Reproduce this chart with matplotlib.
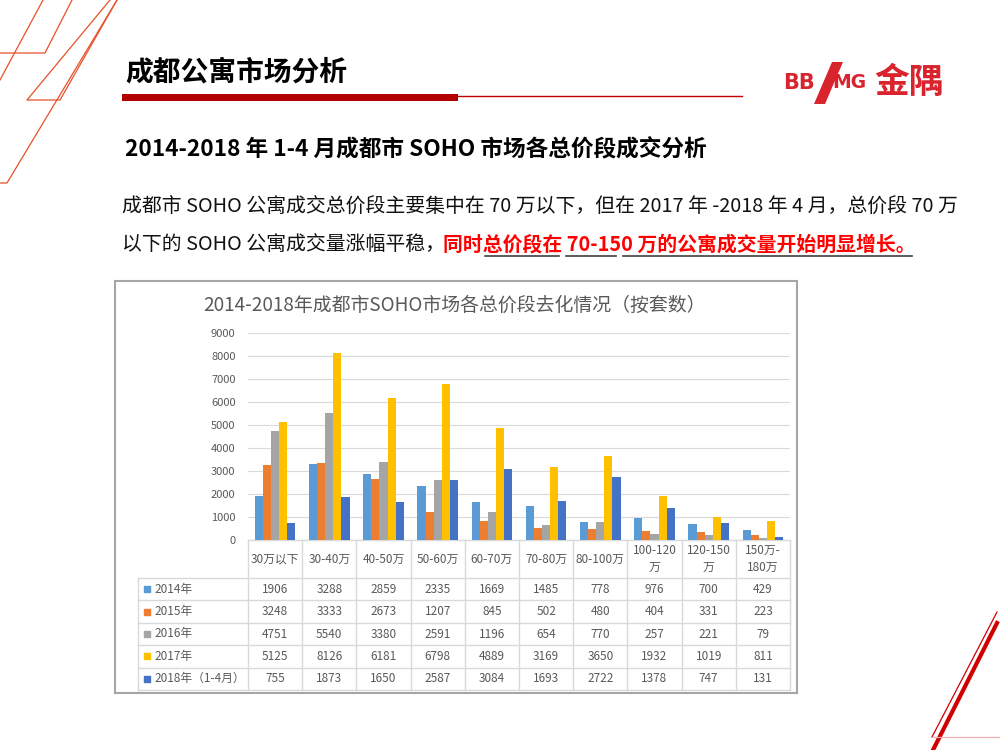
import matplotlib
matplotlib.use("Agg")
import matplotlib.pyplot as plt
import matplotlib.transforms as mtransforms
from matplotlib.patches import Rectangle, Polygon
import numpy as np

plt.rcParams['font.family'] = ['Noto Sans CJK SC', 'DejaVu Sans']

# 数据（按套数）
categories = ["30万以下", "30-40万", "40-50万", "50-60万", "60-70万", "70-80万",
              "80-100万", "100-120\n万", "120-150\n万", "150万-\n180万"]
series_names = ["2014年", "2015年", "2016年", "2017年", "2018年（1-4月）"]
v2014 = [1906, 3288, 2859, 2335, 1669, 1485, 778, 976, 700, 429]
v2015 = [3248, 3333, 2673, 1207, 845, 502, 480, 404, 331, 223]
v2016 = [4751, 5540, 3380, 2591, 1196, 654, 770, 257, 221, 79]
v2017 = [5125, 8126, 6181, 6798, 4889, 3169, 3650, 1932, 1019, 811]
v2018 = [755, 1873, 1650, 2587, 3084, 1693, 2722, 1378, 747, 131]
series = [v2014, v2015, v2016, v2017, v2018]
colors = ["#5B9BD5", "#ED7D31", "#A5A5A5", "#FFC000", "#4472C4"]
yticks = [0, 1000, 2000, 3000, 4000, 5000, 6000, 7000, 8000, 9000]

W, H = 1000, 750
fig = plt.figure(figsize=(10, 7.5), dpi=100)

# 全幅装饰层（像素坐标）
deco = fig.add_axes([0, 0, 1, 1])
deco.set_xlim(0, W)
deco.set_ylim(H, 0)
deco.set_axis_off()

red = "#C00000"
orange = "#E8502A"
for xs, ys in [([43, 0], [0, 80]),
               ([0, 45, 72], [53, 53, 0]),
               ([110, 27, 60, 117], [0, 100, 100, 0]),
               ([117, 7, 0], [0, 183, 183])]:
    deco.plot(xs, ys, color=orange, lw=0.9)
deco.plot([997, 933], [623, 750], color="#D00000", lw=3)
deco.plot([997, 932], [612, 737], color="#D00000", lw=0.9)
deco.plot([932, 1000], [737, 737], color="#F0B0B0", lw=0.9)

# 标题 + 红条
deco.text(125, 72, "成都公寓市场分析", fontsize=20, fontweight="bold",
          va="center", ha="left", color="black")
deco.add_patch(Rectangle((122, 94), 336, 7, color="#B00000", lw=0))
deco.plot([458, 742], [95.5, 95.5], color=red, lw=1)

# logo
logo_c = "#D9232D"
deco.text(783, 83, "BB", fontsize=15, fontweight="bold", color=logo_c,
          va="center", ha="left", family="DejaVu Sans")
deco.add_patch(Polygon([[814, 104], [825, 104], [843, 62], [832, 62]],
                       closed=True, color=logo_c, lw=0))
deco.text(832, 83, "MG", fontsize=13.5, fontweight="bold", color=logo_c,
          va="center", ha="left", family="DejaVu Sans")
deco.text(874, 82, "金隅", fontsize=25, fontweight="bold", color=logo_c,
          va="center", ha="left")

# 副标题与正文
deco.text(125, 150, "2014-2018 年 1-4 月成都市 SOHO 市场各总价段成交分析",
          fontsize=16.3, fontweight="bold", va="center", ha="left")
deco.text(122, 206, "成都市 SOHO 公寓成交总价段主要集中在 70 万以下，但在 2017 年 -2018 年 4 月，总价段 70 万",
          fontsize=14.3, va="center", ha="left", color="#111111")
deco.text(122, 244, "以下的 SOHO 公寓成交量涨幅平稳，",
          fontsize=14.3, va="center", ha="left", color="#111111")
deco.text(443, 244, "同时总价段在 70-150 万的公寓成交量开始明显增长。",
          fontsize=14.3, fontweight="bold", va="center", ha="left", color="#FF0000")
for x0, x1 in [(485, 559), (566, 616), (623, 912)]:
    deco.plot([x0, x1], [256, 256], color="#404040", lw=1.2)

# 图表外框
deco.add_patch(Rectangle((115, 281), 682, 412, fill=False, ec="#A6A6A6", lw=1.5))
deco.text(454, 305, "2014-2018年成都市SOHO市场各总价段去化情况（按套数）",
          fontsize=13.6, color="#595959", va="center", ha="center")

# 柱状图
left, right, y0, y1 = 248, 790, 540, 333
ax = fig.add_axes([left / W, 1 - y0 / H, (right - left) / W, (y0 - y1) / H])
x = np.arange(len(categories))
bw = 0.15
for i, (vals, c) in enumerate(zip(series, colors)):
    ax.bar(x + (i - 2) * bw, vals, width=bw, color=c, zorder=3)
ax.set_xlim(-0.5, len(categories) - 0.5)
ax.set_ylim(0, 9000)
ax.set_yticks(yticks)
ax.set_yticklabels([str(t) for t in yticks], fontsize=8, color="#595959")
ax.tick_params(axis="y", length=0, pad=9)
ax.set_xticks([])
ax.grid(axis="y", color="#D9D9D9", lw=0.8, zorder=0)
for s in ax.spines.values():
    s.set_visible(False)
ax.patch.set_alpha(0)

# 数据表
tr = mtransforms.blended_transform_factory(ax.transData, ax.transAxes)
ph = y0 - y1
row_top = -38 / ph
row_h = 22.4 / ph
nrows = len(series)
tab_left = -0.5 - (left - 138) / ((right - left) / len(categories))
line_c = "#D9D9D9"
bottom = row_top - nrows * row_h
ax.plot([-0.5, len(categories) - 0.5], [0, 0], color=line_c, lw=1, transform=tr, clip_on=False)
for k in range(len(categories) + 1):
    ax.plot([k - 0.5, k - 0.5], [0, bottom], color=line_c, lw=1, transform=tr, clip_on=False)
ax.plot([tab_left, tab_left], [row_top, bottom], color=line_c, lw=1, transform=tr, clip_on=False)
for r in range(nrows + 1):
    yy = row_top - r * row_h
    ax.plot([tab_left, len(categories) - 0.5], [yy, yy], color=line_c, lw=1,
            transform=tr, clip_on=False)
for k, cat in enumerate(categories):
    ax.text(k, row_top / 2, cat, transform=tr, ha="center", va="center",
            fontsize=8.5, color="#595959", linespacing=1.4)
for r, (name, vals, c) in enumerate(zip(series_names, series, colors)):
    yc = row_top - (r + 0.5) * row_h
    ax.scatter([tab_left + 0.17], [yc], marker="s", s=24, color=c,
               transform=tr, clip_on=False)
    ax.text(tab_left + 0.3, yc, name, transform=tr, ha="left", va="center",
            fontsize=8.5, color="#595959")
    for k, v in enumerate(vals):
        ax.text(k, yc, str(v), transform=tr, ha="center", va="center",
                fontsize=8.5, color="#595959")

fig.savefig("out.png", dpi=100, facecolor="white")
